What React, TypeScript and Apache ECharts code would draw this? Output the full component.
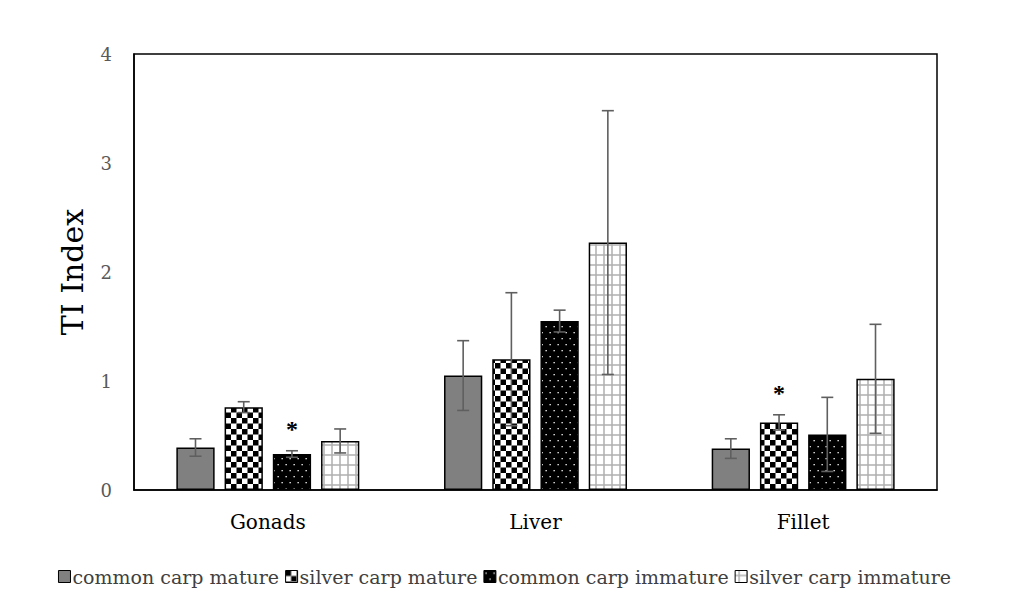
import React, { useEffect, useRef } from "react";
import * as echarts from "echarts";

const categories = ["Gonads", "Liver", "Fillet"];
const seriesNames = [
  "common carp mature",
  "silver carp mature",
  "common carp immature",
  "silver carp immature",
];
const commonMature = [0.39, 1.05, 0.38];
const silverMature = [0.76, 1.2, 0.62];
const commonImmature = [0.33, 1.55, 0.51];
const silverImmature = [0.45, 2.27, 1.02];
const commonMatureErr = [0.08, 0.32, 0.09];
const silverMatureErr = [0.05, 0.61, 0.07];
const commonImmatureErr = [0.03, 0.1, 0.34];
const silverImmatureErr = [0.11, 1.21, 0.5];
// significance marks (1 = asterisk)
const commonMatureSig = [0, 0, 0];
const silverMatureSig = [0, 0, 1];
const commonImmatureSig = [1, 0, 0];
const silverImmatureSig = [0, 0, 0];
const yTicks = [0, 1, 2, 3, 4];

const values = [commonMature, silverMature, commonImmature, silverImmature];
const errs = [commonMatureErr, silverMatureErr, commonImmatureErr, silverImmatureErr];
const sigs = [commonMatureSig, silverMatureSig, commonImmatureSig, silverImmatureSig];

const BAR_W = 0.143;
const GAP = 0.26;

function makeCanvas(w: number, h: number, draw: (ctx: CanvasRenderingContext2D) => void) {
  const c = document.createElement("canvas");
  c.width = w;
  c.height = h;
  const ctx = c.getContext("2d")!;
  draw(ctx);
  return c;
}

function patterns() {
  const checker = makeCanvas(11, 11, (ctx) => {
    ctx.fillStyle = "#fff";
    ctx.fillRect(0, 0, 11, 11);
    ctx.fillStyle = "#000";
    ctx.fillRect(0, 0, 5.5, 5.5);
    ctx.fillRect(5.5, 5.5, 5.5, 5.5);
  });
  const dots = makeCanvas(8, 12, (ctx) => {
    ctx.fillStyle = "#000";
    ctx.fillRect(0, 0, 8, 12);
    ctx.fillStyle = "#fff";
    ctx.fillRect(1.5, 2, 1.3, 1.3);
    ctx.fillRect(5.5, 8, 1.3, 1.3);
  });
  const grid = makeCanvas(8, 10, (ctx) => {
    ctx.fillStyle = "#fff";
    ctx.fillRect(0, 0, 8, 10);
    ctx.strokeStyle = "#b0b0b0";
    ctx.lineWidth = 1.5;
    ctx.beginPath();
    ctx.moveTo(4, 0);
    ctx.lineTo(4, 10);
    ctx.moveTo(0, 5);
    ctx.lineTo(8, 5);
    ctx.stroke();
  });
  return [
    "#808080",
    { image: checker, repeat: "repeat", imageWidth: 11, imageHeight: 11 },
    { image: dots, repeat: "repeat", imageWidth: 8, imageHeight: 12 },
    { image: grid, repeat: "repeat", imageWidth: 8, imageHeight: 10 },
  ];
}

export default function App() {
  const ref = useRef<HTMLDivElement>(null);
  useEffect(() => {
    const chart = echarts.init(ref.current!, null, { renderer: "svg" });
    const fills = patterns();
    const font = "'DejaVu Serif', 'Liberation Serif', serif";
    const barSeries = seriesNames.map((name, i) => ({
      type: "bar",
      name,
      data: values[i],
      barWidth: BAR_W * 100 + "%",
      barGap: GAP * 100 + "%",
      itemStyle: { color: fills[i], borderColor: "#000", borderWidth: 1.5 },
    }));
    const errSeries = seriesNames.map((name, i) => ({
      type: "custom",
      name: name + " err",
      z: 5,
      data: categories.map((_, k) => [k, values[i][k], errs[i][k], sigs[i][k]]),
      renderItem: (params: any, api: any) => {
        const k = api.value(0);
        const v = api.value(1);
        const e = api.value(2);
        const s = api.value(3);
        const band = api.size([1, 0])[0];
        const bw = band * BAR_W;
        const gap = bw * GAP;
        const total = 4 * bw + 3 * gap;
        const off = -total / 2 + bw / 2 + i * (bw + gap);
        const top = api.coord([k, v + e]);
        const bot = api.coord([k, v - e]);
        const x = top[0] + off;
        const cap = 6;
        const st = { stroke: "#5f5f5f", lineWidth: 1.6 };
        const children: any[] = [
          { type: "line", shape: { x1: x, y1: top[1], x2: x, y2: bot[1] }, style: st },
          { type: "line", shape: { x1: x - cap, y1: top[1], x2: x + cap, y2: top[1] }, style: st },
          { type: "line", shape: { x1: x - cap, y1: bot[1], x2: x + cap, y2: bot[1] }, style: st },
        ];
        if (s) {
          children.push({
            type: "text",
            style: {
              text: "*",
              x: x,
              y: top[1] - 22,
              align: "center",
              verticalAlign: "middle",
              fill: "#000",
              font: "bold 24px 'Liberation Serif', serif",
            },
          });
        }
        return { type: "group", children };
      },
    }));
    chart.setOption({
      animation: false,
      backgroundColor: "#fff",
      grid: {
        left: 134,
        right: 72,
        top: 54,
        bottom: 118,
        show: true,
        borderColor: "#000",
        borderWidth: 1.5,
        backgroundColor: "transparent",
      },
      legend: {
        data: seriesNames,
        bottom: 17,
        left: "center",
        icon: "rect",
        itemWidth: 12,
        itemHeight: 12,
        itemGap: 6,
        textStyle: { fontFamily: font, fontSize: 19, color: "#404040", padding: [0, 0, 0, -3] },
        itemStyle: { borderColor: "#000", borderWidth: 1 },
      },
      xAxis: {
        type: "category",
        data: categories,
        axisLine: { lineStyle: { color: "#000", width: 1.5 } },
        axisTick: { show: false },
        axisLabel: { fontFamily: font, fontSize: 20, color: "#000", margin: 22 },
      },
      yAxis: {
        type: "value",
        min: yTicks[0],
        max: yTicks[yTicks.length - 1],
        interval: 1,
        name: "TI Index",
        nameLocation: "middle",
        nameGap: 47,
        nameTextStyle: { fontFamily: font, fontSize: 30, color: "#000" },
        axisLine: { show: true, lineStyle: { color: "#000", width: 1.5 } },
        axisTick: { show: false },
        splitLine: { show: false },
        axisLabel: { fontFamily: font, fontSize: 18, color: "#595959", margin: 22 },
      },
      series: [...barSeries, ...errSeries],
    });
    return () => chart.dispose();
  }, []);
  return <div ref={ref} style={{ width: 1009, height: 608, position: "absolute", left: 0, top: 0 }} />;
}
